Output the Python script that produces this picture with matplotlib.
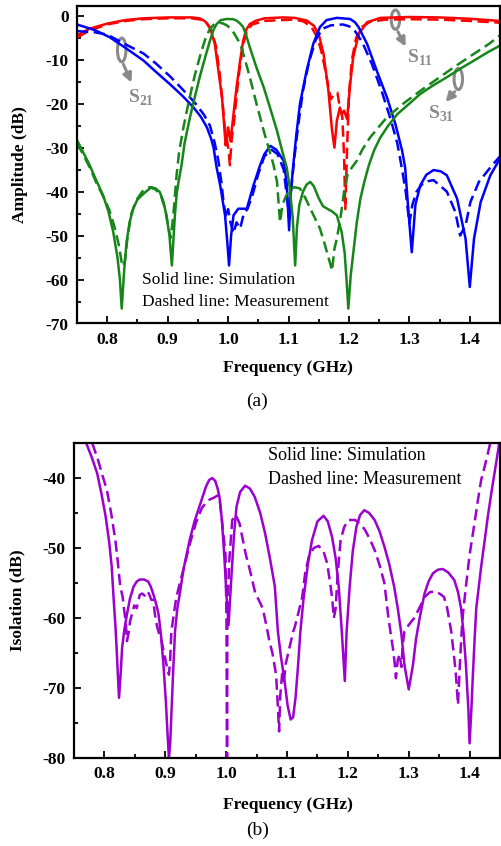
import matplotlib
matplotlib.use('agg')
import matplotlib.pyplot as plt
from matplotlib.patches import Ellipse

plt.rcParams['font.family'] = ['Liberation Serif', 'DejaVu Serif']
plt.rcParams['mathtext.fontset'] = 'custom'
plt.rcParams['mathtext.rm'] = 'Liberation Serif'
plt.rcParams['mathtext.bf'] = 'Liberation Serif:bold'
plt.rcParams['axes.unicode_minus'] = False

# ---- (a) S11 (red) ----
s11_sim_f = [0.75, 0.77, 0.80, 0.83, 0.86, 0.90, 0.94, 0.953, 0.962, 0.970, 0.978, 0.984, 0.990, 0.993, 0.996,
             0.998, 1.000, 1.004, 1.009, 1.014, 1.020, 1.025, 1.030, 1.036, 1.045, 1.06, 1.09, 1.11, 1.13, 1.142,
             1.150, 1.158, 1.166, 1.172, 1.176, 1.180, 1.185, 1.188, 1.192, 1.197, 1.202, 1.207, 1.216, 1.230,
             1.252, 1.30, 1.35, 1.40, 1.45]
s11_sim_db = [-4.5, -3.0, -1.8, -1.0, -0.6, -0.4, -0.4, -0.6, -1.3, -2.6, -6.4, -12.5, -18.6, -24, -29.5,
              -27.7, -25.4, -28.5, -22.4, -16.3, -10.2, -5.7, -3.2, -1.9, -1.2, -0.6, -0.4, -0.5, -1.1, -2.3,
              -4.2, -8.7, -17, -26, -30, -23.9, -20.9, -22.4, -21.6, -23.5, -15.6, -9.5, -4.2, -1.5,
              -0.5, -0.3, -0.4, -0.7, -1.2]
s11_meas_f = [0.75, 0.77, 0.80, 0.83, 0.86, 0.90, 0.94, 0.955, 0.965, 0.973, 0.980, 0.986, 0.991, 0.995, 0.998,
              1.001, 1.003, 1.006, 1.010, 1.015, 1.020, 1.026, 1.032, 1.040, 1.06, 1.09, 1.11, 1.125, 1.138,
              1.148, 1.156, 1.163, 1.170, 1.176, 1.181, 1.185, 1.189, 1.192, 1.194, 1.197, 1.200, 1.205, 1.212,
              1.222, 1.235, 1.26, 1.30, 1.35, 1.40, 1.45]
s11_meas_db = [-5.0, -3.4, -2.0, -1.2, -0.8, -0.6, -0.6, -0.9, -1.8, -3.5, -7, -13, -20, -26, -28,
               -31, -34, -28, -24, -17, -11, -6, -3.2, -2.0, -1.2, -1.0, -0.9, -1.3, -2.6,
               -5, -9, -14, -19, -17.8, -17.5, -21, -23, -32, -44, -30, -18, -10, -5,
               -2.5, -1.4, -0.9, -0.8, -0.9, -1.2, -1.6]

# ---- (a) S21 (blue) ----
s21_sim_f = [0.75, 0.78, 0.804, 0.83, 0.86, 0.88, 0.904, 0.925, 0.943, 0.955, 0.965, 0.972, 0.976, 0.981, 0.987,
             0.995, 0.999, 1.0016, 1.005, 1.009, 1.017, 1.031, 1.036, 1.042, 1.053, 1.060, 1.070, 1.080, 1.092,
             1.097, 1.101, 1.104, 1.108, 1.113, 1.119, 1.130, 1.141, 1.152, 1.163, 1.180, 1.202, 1.210, 1.216,
             1.230, 1.246, 1.263, 1.277, 1.288, 1.293, 1.299, 1.304, 1.310, 1.318, 1.328, 1.340, 1.352, 1.362,
             1.379, 1.393, 1.400, 1.407, 1.418, 1.434, 1.45]
s21_sim_db = [-2.0, -3.3, -4.9, -7.3, -10.2, -12.7, -15.6, -18.3, -20.9, -23, -25.4, -28, -30, -34.5, -38.6,
              -45.4, -52, -56.8, -50, -45.4, -43.9, -43.9, -41.5, -38.6, -34, -31.5, -29.6, -30.5, -33,
              -38, -48.8, -40, -33.8, -27, -20, -12.5, -6.4, -2.6, -1.0, -0.5, -0.75, -1.5, -2.6,
              -6.4, -12.5, -18.6, -24.7, -30.7, -34.5, -45.4, -53.8, -43, -38.6, -36.2, -35.1, -35.4, -36.3,
              -41.6, -50.7, -61.7, -50.7, -42.4, -36.3, -32.5]
s21_meas_f = [0.75, 0.78, 0.80, 0.83, 0.86, 0.88, 0.904, 0.925, 0.945, 0.96, 0.97, 0.978, 0.984, 0.989, 0.993,
              0.997, 1.000, 1.004, 1.009, 1.014, 1.020, 1.026, 1.032, 1.040, 1.050, 1.060, 1.072, 1.082, 1.092,
              1.098, 1.101, 1.104, 1.110, 1.116, 1.124, 1.134, 1.145, 1.156, 1.170, 1.190, 1.200, 1.210, 1.222,
              1.238, 1.255, 1.270, 1.280, 1.288, 1.294, 1.300, 1.305, 1.312, 1.324, 1.340, 1.362, 1.376, 1.384,
              1.393, 1.401, 1.415, 1.437, 1.45]
s21_meas_db = [-3.5, -3.8, -4.3, -6.5, -8.6, -10.8, -13.8, -16.8, -19.8, -22.5, -25, -29, -33, -38, -43,
               -46, -44, -47, -49.5, -47, -48.4, -45, -44, -41, -36, -32, -30.5, -31.5, -35,
               -42, -46, -40, -32, -25, -17, -10.5, -5.5, -3.0, -2.2, -2.0, -2.4, -3.5, -6,
               -11, -17.5, -24, -29, -35, -40, -47.3, -43, -40, -37.8, -37.4, -40, -44.6, -50,
               -47.7, -42.4, -37.8, -34, -32]

# ---- (a) S31 (green) ----
s31_sim_f = [0.75, 0.76, 0.771, 0.782, 0.793, 0.802, 0.810, 0.817, 0.821, 0.824, 0.828, 0.832, 0.837, 0.843,
             0.850, 0.860, 0.873, 0.880, 0.887, 0.893, 0.898, 0.903, 0.907, 0.910, 0.912, 0.915, 0.918, 0.923,
             0.928, 0.937, 0.945, 0.953, 0.962, 0.970, 0.976, 0.981, 0.988, 0.998, 1.008, 1.014, 1.020, 1.025,
             1.030, 1.036, 1.047, 1.059, 1.070, 1.081, 1.090, 1.097, 1.102, 1.107, 1.111, 1.114, 1.118, 1.124,
             1.130, 1.136, 1.142, 1.150, 1.157, 1.164, 1.172, 1.180, 1.188, 1.193, 1.196, 1.199, 1.203, 1.208,
             1.213, 1.219, 1.226, 1.233, 1.242, 1.252, 1.265, 1.280, 1.30, 1.318, 1.34, 1.362, 1.385, 1.407,
             1.43, 1.45]
s31_sim_db = [-28.3, -31, -34, -37.5, -40.8, -44.5, -49.2, -55, -60, -66.6, -58, -51.5, -47, -43.9,
              -41.8, -40.5, -39, -39.3, -40.1, -42.3, -45.4, -50, -56.8, -50, -45.4, -40.5, -37.8, -34,
              -29, -23.1, -18.5, -14, -9.5, -5.7, -3.2, -1.9, -1.0, -0.75, -0.8, -1.1, -1.8, -2.6,
              -4.5, -7.2, -11.8, -16.3, -21.2, -26.2, -31, -34.5, -39, -46, -56.8, -48, -43, -40,
              -38.4, -37.8, -38.8, -41.5, -43.3, -43.9, -44.5, -45.4, -49.2, -54, -60, -66.6, -59, -53,
              -47, -41.6, -37.5, -34, -30.5, -27.7, -25, -22.4, -20, -17.8, -15.8, -14, -12, -10.2,
              -8.3, -6.8]
s31_meas_f = [0.75, 0.76, 0.771, 0.782, 0.793, 0.803, 0.812, 0.819, 0.825, 0.829, 0.834, 0.840, 0.848, 0.858,
              0.870, 0.880, 0.889, 0.896, 0.901, 0.905, 0.909, 0.912, 0.915, 0.919, 0.926, 0.935, 0.945, 0.955,
              0.963, 0.970, 0.978, 0.986, 0.992, 0.998, 1.003, 1.010, 1.020, 1.028, 1.036, 1.047, 1.059, 1.068,
              1.075, 1.081, 1.086, 1.090, 1.096, 1.103, 1.110, 1.119, 1.128, 1.139, 1.152, 1.160, 1.169, 1.172,
              1.176, 1.180, 1.186, 1.192, 1.198, 1.205, 1.213, 1.222, 1.235, 1.250, 1.263, 1.29, 1.318, 1.345,
              1.373, 1.40, 1.432, 1.45]
s31_meas_db = [-29, -31.5, -34.5, -38, -41, -44, -48, -52, -57, -56, -50, -45, -42, -40,
               -39, -39.5, -41, -44, -48, -50.5, -46, -41, -36, -31, -25.5, -19.5, -13.5, -8.5,
               -5, -3.0, -1.8, -1.6, -1.8, -2.2, -2.8, -4.0, -6.4, -10, -14, -20, -26.2, -30.5,
               -33.8, -37.8, -47, -43, -41, -39.5, -39, -39.3, -41.5, -44.7, -48.4, -52, -56.4, -58,
               -53, -50.7, -46, -40, -36, -34.5, -33, -30.5, -27.7, -25.2, -23.1, -20, -17.1, -14.5,
               -11.8, -9.3, -6.4, -4.5]

# ---- (b) isolation (purple) ----
iso_sim_f = [0.770, 0.779, 0.788, 0.795, 0.802, 0.808, 0.812, 0.815, 0.818, 0.820, 0.822, 0.824, 0.827, 0.829,
             0.833, 0.837, 0.842, 0.848, 0.853, 0.858, 0.865, 0.872, 0.876, 0.880, 0.885, 0.889, 0.893, 0.897,
             0.901, 0.904, 0.906, 0.908, 0.910, 0.913, 0.916, 0.920, 0.923, 0.930, 0.940, 0.948, 0.956, 0.962,
             0.967, 0.972, 0.977, 0.982, 0.986, 0.989, 0.993, 0.997, 1.001, 1.004, 1.006, 1.009, 1.013, 1.017,
             1.023, 1.031, 1.039, 1.047, 1.056, 1.064, 1.072, 1.080, 1.085, 1.090, 1.096, 1.101, 1.106, 1.110,
             1.114, 1.118, 1.122, 1.127, 1.134, 1.141, 1.150, 1.160, 1.167, 1.174, 1.180, 1.185, 1.190, 1.195,
             1.198, 1.203, 1.208, 1.214, 1.220, 1.227, 1.235, 1.244, 1.252, 1.260, 1.268, 1.276, 1.282, 1.288,
             1.293, 1.300, 1.307, 1.312, 1.318, 1.326, 1.333, 1.340, 1.348, 1.356, 1.365, 1.375, 1.381, 1.386,
             1.390, 1.394, 1.398, 1.400, 1.403, 1.405, 1.408, 1.411, 1.419, 1.425, 1.430, 1.436, 1.441, 1.447,
             1.452]
iso_sim_db = [-35, -37, -39.3, -42.2, -45.5, -49.3, -52.7, -57.1, -61, -64.3, -68, -71.4, -67.5, -64.3,
              -61.5, -59.5, -57.2, -55.5, -54.8, -54.5, -54.5, -54.8, -55.5, -56.5, -58, -59.5, -62.5, -66.7,
              -72, -77, -80, -78, -73.8, -67.5, -61.9, -58.5, -57, -53, -48.9, -46.2, -44.1, -42.5,
              -41.2, -40.3, -40, -40.4, -41.5, -42.7, -46, -51.2, -57.4, -61, -58, -53.6, -48, -44.1,
              -42, -41.1, -41.5, -42.7, -45, -47.9, -51.5, -55.5, -61.9, -65.5, -69, -72.5, -74.5, -74.2,
              -71.4, -67, -61.9, -57.4, -52.5, -48.9, -46.2, -45.4, -46.2, -48.4, -51.5, -55.5, -61.9, -69,
              -61.9, -55.5, -50.5, -47, -45.3, -44.6, -45, -46, -47.6, -49.8, -52.3, -55.5, -58.6, -62.3,
              -66.7, -70.2, -66.7, -63, -60, -56.5, -54.7, -53.6, -53.1, -53, -53.5, -54.6, -56.3, -58.6,
              -62, -66.7, -73, -77.9, -73, -69, -63.5, -58.6, -52.7, -48.8, -45.5, -42, -39.3, -36,
              -33]
iso_meas_f = [0.780, 0.790, 0.797, 0.804, 0.811, 0.818, 0.822, 0.826, 0.830, 0.832, 0.835, 0.837, 0.840, 0.842,
              0.845, 0.849, 0.853, 0.856, 0.858, 0.862, 0.866, 0.869, 0.873, 0.877, 0.880, 0.883, 0.886, 0.889,
              0.894, 0.898, 0.902, 0.904, 0.906, 0.908, 0.910, 0.914, 0.918, 0.924, 0.930, 0.940, 0.950, 0.960,
              0.970, 0.980, 0.986, 0.990, 0.993, 0.996, 0.999, 1.0005, 1.001, 1.0015, 1.002, 1.005, 1.010, 1.016,
              1.022, 1.032, 1.040, 1.048, 1.054, 1.060, 1.066, 1.071, 1.076, 1.079, 1.082, 1.084, 1.087, 1.089,
              1.092, 1.095, 1.098, 1.102, 1.106, 1.110, 1.113, 1.118, 1.125, 1.130, 1.136, 1.144, 1.152, 1.160,
              1.166, 1.170, 1.174, 1.177, 1.180, 1.183, 1.188, 1.194, 1.201, 1.212, 1.220, 1.228, 1.236, 1.244,
              1.252, 1.260, 1.266, 1.270, 1.274, 1.277, 1.279, 1.282, 1.285, 1.288, 1.290, 1.293, 1.300, 1.309,
              1.318, 1.326, 1.335, 1.345, 1.352, 1.358, 1.363, 1.367, 1.370, 1.373, 1.377, 1.381, 1.384, 1.387,
              1.389, 1.394, 1.400, 1.408, 1.414, 1.419, 1.425, 1.430, 1.435]
iso_meas_db = [-35, -37.6, -39.7, -41.7, -45, -48.9, -52, -55.5, -57, -58.6, -60.5, -63.3, -62, -60.5,
               -59.5, -58.2, -58.6, -57.5, -56.7, -56.5, -56.8, -56.2, -56.5, -57.4, -57.4, -59.5, -61, -62,
               -63.3, -65, -66.7, -67.2, -68.1, -66, -61.9, -59.5, -57.1, -55, -53, -49.5, -46.5, -44.3,
               -43.2, -42.8, -42.5, -43.5, -46, -48.5, -51, -60, -70, -80, -60, -52, -46, -45.3,
               -46.5, -50.8, -53.5, -56.5, -57.5, -58.6, -61, -63.3, -65, -66.5, -68.1, -71, -76.2, -71,
               -68, -69, -66.5, -65, -63.5, -62, -61.2, -59.5, -57, -53.5, -51.2, -50, -49.7, -50.5,
               -52.2, -54.5, -57, -60, -58.6, -54, -48.9, -47, -46, -46, -46.5, -47.4, -48.7, -50.3,
               -52.4, -55, -59.5, -62, -64.3, -66.5, -68.6, -66, -65.2, -67, -64, -61.9, -61, -60,
               -58.5, -57, -56.3, -56.2, -56.6, -57, -58.5, -60.5, -62, -64.3, -67.5, -72.4, -66.7, -62,
               -59.5, -55.5, -51, -46.5, -43, -40.3, -38.3, -36.5, -34.6]

RED = '#ff0000'
BLUE = '#0000ff'
GREEN = '#16861a'
PURPLE = '#9d00cf'
GRAY = '#8a8a8a'
LW = 1.8
DASH = (0, (4.5, 2.2))


def style(ax, yticks, yminor):
    ax.set_xlim(0.75, 1.45)
    ax.set_xticks([0.8, 0.9, 1.0, 1.1, 1.2, 1.3, 1.4])
    ax.set_xticklabels(['0.8', '0.9', '1.0', '1.1', '1.2', '1.3', '1.4'])
    ax.set_xticks([0.85, 0.95, 1.05, 1.15, 1.25, 1.35], minor=True)
    ax.set_yticks(yticks)
    ax.set_yticks(yminor, minor=True)
    ax.tick_params(which='both', direction='in', top=False, right=False, width=1.3)
    ax.tick_params(which='major', length=5, pad=6, labelsize=12.5)
    ax.tick_params(which='minor', length=3)
    for lab in ax.get_xticklabels() + ax.get_yticklabels():
        lab.set_fontweight('bold')
    for s in ax.spines.values():
        s.set_linewidth(1.6)


fig = plt.figure(figsize=(5.01, 8.46), dpi=100)

# top panel
ax1 = fig.add_axes([77 / 501, 1 - 323.5 / 846, 423 / 501, 317.5 / 846])
ax1.plot(s11_sim_f, s11_sim_db, color=RED, lw=LW)
ax1.plot(s11_meas_f, s11_meas_db, color=RED, lw=LW, linestyle=DASH)
ax1.plot(s21_sim_f, s21_sim_db, color=BLUE, lw=LW)
ax1.plot(s21_meas_f, s21_meas_db, color=BLUE, lw=LW, linestyle=DASH)
ax1.plot(s31_sim_f, s31_sim_db, color=GREEN, lw=LW)
ax1.plot(s31_meas_f, s31_meas_db, color=GREEN, lw=LW, linestyle=DASH)
ax1.set_ylim(-70, 2.2)
style(ax1, [0, -10, -20, -30, -40, -50, -60, -70], [-5, -15, -25, -35, -45, -55, -65])

ax1.text(0.857, -60, 'Solid line: Simulation', fontsize=12.5, va='center')
ax1.text(0.857, -65, 'Dashed line: Measurement', fontsize=12.5, va='center')

# S-parameter markers: ellipse, arrow, label
for (ex, ey, eh, ax0, ay0, tx, ty, ttx, tty, lab) in [
        (0.824, -7.8, 5.4, 0.825, -10.5, 0.842, -15.8, 0.856, -18.7, r'$\mathbf{S}_{\mathbf{21}}$'),
        (1.277, -0.9, 4.4, 1.279, -3.1, 1.296, -7.6, 1.318, -9.5, r'$\mathbf{S}_{\mathbf{11}}$'),
        (1.381, -14.4, 4.8, 1.378, -16.8, 1.357, -20.1, 1.352, -22.4, r'$\mathbf{S}_{\mathbf{31}}$')]:
    ax1.add_patch(Ellipse((ex, ey), 0.014, eh, fill=False, edgecolor=GRAY, lw=2.2))
    ax1.annotate('', xy=(tx, ty), xytext=(ax0, ay0),
                 arrowprops=dict(arrowstyle='-|>', color=GRAY, lw=2.2, mutation_scale=13))
    ax1.text(ttx, tty, lab, color=GRAY, fontsize=14, ha='center', va='center')

fig.text(20 / 501, 1 - 165 / 846, 'Amplitude (dB)', rotation=90, ha='center', va='center',
         fontsize=12.5, fontweight='bold')
fig.text(288 / 501, 1 - 368 / 846, 'Frequency (GHz)', ha='center', va='center',
         fontsize=12.5, fontweight='bold')
fig.text(257 / 501, 1 - 401 / 846, '(a)', ha='center', va='center', fontsize=14)

# bottom panel
ax2 = fig.add_axes([74 / 501, 1 - 758 / 846, 426 / 501, 315 / 846])
ax2.plot(iso_sim_f, iso_sim_db, color=PURPLE, lw=LW)
ax2.plot(iso_meas_f, iso_meas_db, color=PURPLE, lw=LW, linestyle=DASH)
ax2.set_ylim(-80, -35)
style(ax2, [-40, -50, -60, -70, -80], [-35, -45, -55, -65, -75])

ax2.text(1.068, -36.8, 'Solid line: Simulation', fontsize=13, va='center')
ax2.text(1.068, -40.2, 'Dashed line: Measurement', fontsize=13, va='center')

fig.text(17 / 501, 1 - 600 / 846, 'Isolation (dB)', rotation=90, ha='center', va='center',
         fontsize=12.5, fontweight='bold')
fig.text(288 / 501, 1 - 805 / 846, 'Frequency (GHz)', ha='center', va='center',
         fontsize=12.5, fontweight='bold')
fig.text(258 / 501, 1 - 830 / 846, '(b)', ha='center', va='center', fontsize=14)

fig.savefig('out.png', dpi=100)
